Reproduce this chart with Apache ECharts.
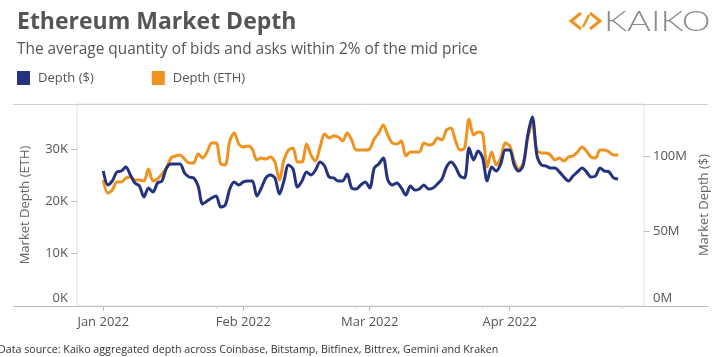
<!DOCTYPE html>
<html><head><meta charset="utf-8">
<script src="https://cdn.jsdelivr.net/npm/echarts@6/dist/echarts.min.js"></script>
<style>html,body{margin:0;padding:0;background:#fff}#c{width:719px;height:357px}</style>
</head><body><div id="c"></div>
<script>
// ---- data ----
const startDate = '2022-01-01'; // first daily observation
const depthETH = [24080,21590,22170,23700,23700,24460,24650,24080,24080,23890,
26180,23890,24270,25230,26370,28280,28670,28860,28090,27330,
27330,29050,28280,29430,31150,31150,27140,26950,31530,33060,
30960,30390,30580,30000,27900,28280,28090,28470,27520,24080,
27900,29810,30190,27520,27520,30960,28860,27710,30390,32870,
32110,32490,32300,31530,33060,31720,29810,29810,29810,30000,
31910,33060,34590,32680,31150,30960,31530,28670,29430,29430,
29430,31150,30770,30960,32110,31720,33630,34020,31530,29810,
30190,35740,32680,33250,32870,26560,29430,26950,28280,31150,
30580,27710,26180,27330,32110,35160,29810,29240,29240,28860,
27900,28280,27710,28470,28670,29430,30390,29620,28470,28280,
29810,29810,29430,28860,28860];
const depthUSDm = [90.0,80.7,83.4,89.4,90.0,92.7,87.4,82.0,80.0,72.7,
78.7,76.0,82.0,83.4,92.0,94.7,94.7,94.7,88.7,86.0,
85.4,80.0,68.0,70.0,72.0,73.3,66.0,67.3,78.0,82.7,
80.7,82.7,83.4,83.4,73.3,78.7,85.4,87.4,85.4,74.7,
83.4,94.0,91.4,79.3,83.4,89.4,87.4,90.7,96.0,93.4,
86.0,85.4,83.4,83.4,88.0,78.7,78.0,80.7,82.7,78.7,
92.0,94.7,98.7,84.0,80.7,82.0,78.7,74.0,80.0,77.3,
78.0,80.7,78.0,78.7,81.4,84.7,92.7,96.0,92.7,86.7,
85.4,105.4,97.4,103.4,98.7,83.4,92.7,90.0,94.7,104.0,
104.0,94.0,90.0,94.0,114.0,126.0,100.7,94.0,93.4,92.0,
92.0,89.4,86.0,83.4,86.7,89.4,92.0,89.4,86.0,86.7,
92.0,90.0,89.4,85.4,84.7]; // millions of USD
const monthTicks = ['2022-01-01','2022-02-01','2022-03-01','2022-04-01'];
const minorTicks = ['2022-01-26','2022-02-26','2022-03-26','2022-04-26'];
const ethTickStep = 10000;
const usdTickStep = 50;
const seriesNames = ['Depth ($)', 'Depth (ETH)'];
const monthNames = ['Jan','Feb','Mar','Apr','May','Jun','Jul','Aug','Sep','Oct','Nov','Dec'];

// ---- build ----
const DAY = 86400000;
const t0 = Date.parse(startDate + 'T00:00:00Z');
const dates = depthETH.map((_, i) => t0 + i * DAY);
const ethData = depthETH.map((v, i) => [dates[i], v]);
const usdData = depthUSDm.map((v, i) => [dates[i], v]);
const toTs = s => Date.parse(s + 'T00:00:00Z');
const xMin = t0 - 5.82 * DAY, xMax = t0 + 119.73 * DAY;

const FONT = '"Open Sans"';
const chart = echarts.init(document.getElementById('c'), null, {renderer: 'canvas'});
chart.setOption({
  animation: false,
  textStyle: {fontFamily: FONT},
  title: [
    {text: 'Ethereum Market Depth', left: 12, top: 6,
     textStyle: {fontFamily: FONT, fontSize: 23, fontWeight: 'bold', color: '#555'}},
    {text: 'The average quantity of bids and asks within 2% of the mid price', left: 12, top: 37,
     textStyle: {fontFamily: FONT, fontSize: 15.4, fontWeight: 'normal', color: '#555'}}
  ],
  legend: {
    data: seriesNames, left: 12, top: 66, icon: 'rect', itemWidth: 13, itemHeight: 14, itemGap: 58,
    textStyle: {fontFamily: FONT, fontSize: 13, color: '#555', padding: [0, 0, 0, 3]}
  },
  grid: {left: 77, right: 75, top: 104, bottom: 51, show: true, borderColor: '#e2e2e2', borderWidth: 1, containLabel: false},
  xAxis: [
    {type: 'value', min: xMin, max: xMax, position: 'bottom',
     axisLine: {show: true, lineStyle: {color: '#bdbdbd'}},
     axisTick: {show: true, customValues: monthTicks.map(toTs), length: 5, lineStyle: {color: '#bdbdbd'}},
     axisLabel: {customValues: monthTicks.map(toTs), margin: 10, fontSize: 13, color: '#555', fontFamily: FONT,
       formatter: v => { const d = new Date(v); return monthNames[d.getUTCMonth()] + ' ' + d.getUTCFullYear(); }},
     splitLine: {show: false}},
    {type: 'value', min: xMin, max: xMax, position: 'bottom',
     axisLine: {show: false},
     axisTick: {show: true, customValues: minorTicks.map(toTs), length: 3, lineStyle: {color: '#d8d8d8'}},
     axisLabel: {show: false}, splitLine: {show: false}}
  ],
  yAxis: [
    {type: 'value', position: 'left', min: 0, max: 38600, interval: ethTickStep,
     name: 'Market Depth (ETH)', nameLocation: 'middle', nameGap: 45,
     nameTextStyle: {fontFamily: FONT, fontSize: 13, color: '#666'},
     axisLine: {show: false},
     axisTick: {show: true, length: 6, lineStyle: {color: '#bdbdbd'}},
     axisLabel: {margin: 9, fontSize: 13, color: '#555', fontFamily: FONT, showMaxLabel: false,
       formatter: v => v === 0 ? '{z|0K}' : (v / 1000) + 'K',
       rich: {z: {fontSize: 13, color: '#555', fontFamily: FONT, padding: [0, 0, 16, 0]}}},
     splitLine: {show: false}},
    {type: 'value', position: 'right', min: 0, max: 134.7, interval: usdTickStep,
     name: 'Market Depth ($)', nameLocation: 'middle', nameGap: 48,
     nameTextStyle: {fontFamily: FONT, fontSize: 13, color: '#666'},
     axisLine: {show: false},
     axisTick: {show: true, length: 6, lineStyle: {color: '#bdbdbd'}},
     axisLabel: {margin: 9, fontSize: 13, color: '#555', fontFamily: FONT, showMaxLabel: false,
       formatter: v => v === 0 ? '{z|0M}' : v + 'M',
       rich: {z: {fontSize: 13, color: '#555', fontFamily: FONT, padding: [0, 0, 16, 0]}}},
     splitLine: {show: false}}
  ],
  series: [
    {name: 'Depth (ETH)', type: 'line', xAxisIndex: 0, yAxisIndex: 0, data: ethData,
     showSymbol: false, smooth: 0.3, lineStyle: {width: 3, color: '#f0921f'}, itemStyle: {color: '#f0921f'}, z: 2},
    {name: 'Depth ($)', type: 'line', xAxisIndex: 0, yAxisIndex: 1, data: usdData,
     showSymbol: false, smooth: 0.3, lineStyle: {width: 3, color: '#24337f'}, itemStyle: {color: '#24337f'}, z: 3}
  ],
  graphic: [
    {type: 'line', shape: {x1: 13, y1: 104.5, x2: 708, y2: 104.5}, style: {stroke: '#cfcfcf', lineWidth: 1}, z: 0},
    {type: 'line', shape: {x1: 13, y1: 306.5, x2: 708, y2: 306.5}, style: {stroke: '#bdbdbd', lineWidth: 1}, z: 0},
    {type: 'text', left: -2, top: 344, style: {text: 'Data source: Kaiko aggregated depth across Coinbase, Bitstamp, Bitfinex, Bittrex, Gemini and Kraken', fontFamily: FONT, fontSize: 10.7, fill: '#333'}},
    {type: 'polyline', shape: {points: [[581, 13], [571, 21], [581, 29]]}, style: {stroke: '#f0921f', lineWidth: 3, fill: null}},
    {type: 'polyline', shape: {points: [[590, 13], [600, 21], [590, 29]]}, style: {stroke: '#f0921f', lineWidth: 3, fill: null}},
    {type: 'line', shape: {x1: 583, y1: 27, x2: 589, y2: 15}, style: {stroke: '#f0921f', lineWidth: 2.5}},
    {type: 'text', x: 604, y: 8, scaleX: 1.3, style: {text: 'KAIKO', fontFamily: 'Lato', fontSize: 28, fontWeight: 300, fill: '#8a8a8a'}}
  ]
});
</script></body></html>
